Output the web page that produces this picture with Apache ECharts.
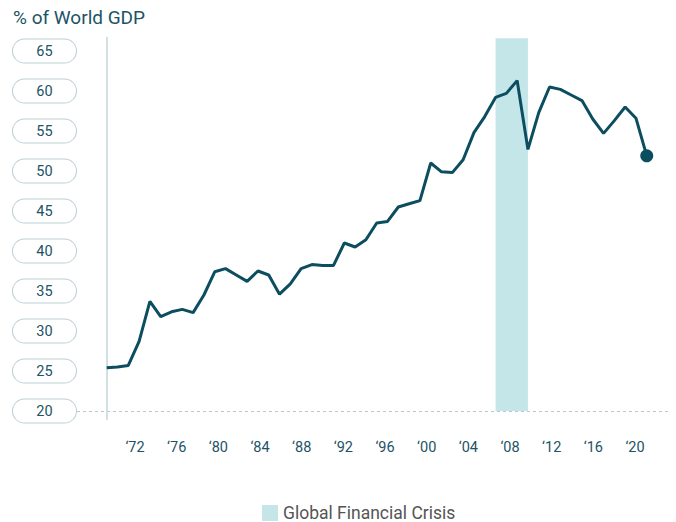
<!DOCTYPE html>
<html>
<head>
<meta charset="utf-8">
<script src="https://cdn.jsdelivr.net/npm/echarts@6/dist/echarts.min.js"></script>
<style>
  html, body { margin: 0; padding: 0; background: #fff; }
  #chart { width: 676px; height: 522px; }
</style>
</head>
<body>
<div id="chart"></div>
<script>
// years of the series, one point per year
var years = [];
for (var y = 1970; y <= 2020; y++) years.push(y);

// share of world GDP
var shares = [
  25.4, 25.5, 25.7, 28.7, 33.7, 31.8, 32.4, 32.7, 32.3, 34.5,
  37.4, 37.8, 37.0, 36.2, 37.5, 37.0, 34.6, 35.9, 37.8, 38.3,
  38.2, 38.2, 41.0, 40.5, 41.4, 43.5, 43.7, 45.5, 45.9, 46.3,
  51.0, 49.9, 49.8, 51.4, 54.8, 56.8, 59.2, 59.7, 61.3, 52.7,
  57.3, 60.5, 60.2, 59.5, 58.8, 56.5, 54.7, 56.3, 58.0, 56.6,
  51.9
];

var yTicks = [20, 25, 30, 35, 40, 45, 50, 55, 60, 65];
var xTicks = [1972, 1976, 1980, 1984, 1988, 1992, 1996, 2000, 2004, 2008, 2012, 2016, 2020];
var crisis = [2006, 2009];
var crisisName = 'Global Financial Crisis';

(function() {
  var ink = '#1d5366';
  var lineColor = '#0c4e60';
  var band = '#c5e6e9';
  var rule = '#bccfd5';
  var font = 'Roboto, "Noto Sans", sans-serif';

  var chart = echarts.init(document.getElementById('chart'), null, { renderer: 'svg' });

  var points = years.map(function(yr, i) {
    if (i === years.length - 1) {
      return { value: [yr, shares[i]], symbol: 'circle', symbolSize: 13 };
    }
    return [yr, shares[i]];
  });

  chart.setOption({
    animation: false,
    textStyle: { fontFamily: font },
    title: {
      text: '% of World GDP',
      left: 8,
      top: 3,
      textStyle: { color: ink, fontSize: 19, fontWeight: 'normal', fontFamily: font }
    },
    legend: {
      data: [crisisName],
      left: 257,
      top: 499,
      icon: 'rect',
      itemWidth: 16,
      itemHeight: 16,
      selectedMode: false,
      textStyle: { color: '#555', fontSize: 17.5, fontFamily: font }
    },
    grid: { left: 77, right: 7, top: 37, bottom: 102 },
    xAxis: [{
      // data axis: one step per year
      type: 'value',
      min: 1967.25,
      max: 2022.06,
      axisLine: { show: false },
      axisTick: { show: false },
      axisLabel: { show: false },
      splitLine: { show: false }
    }, {
      // label axis
      type: 'value',
      position: 'bottom',
      min: 1966.43,
      max: 2023.26,
      axisLine: { show: false },
      axisTick: { show: false },
      splitLine: { show: false },
      axisLabel: {
        customValues: xTicks,
        color: ink,
        fontSize: 14.5,
        margin: 20,
        formatter: function(v) { return '\u2018' + String(v).slice(2); }
      }
    }],
    yAxis: {
      type: 'value',
      min: 18.875,
      max: 66.75,
      axisLine: { show: false },
      axisTick: { show: false },
      splitLine: { show: false },
      axisLabel: {
        customValues: yTicks,
        margin: 1,
        formatter: function(v) { return '{p|' + v + '}'; },
        rich: {
          p: {
            width: 63,
            height: 23,
            lineHeight: 23,
            align: 'center',
            color: ink,
            fontSize: 14.5,
            fontFamily: font,
            backgroundColor: '#fff',
            borderColor: rule,
            borderWidth: 1,
            borderRadius: 12
          }
        }
      }
    },
    series: [{
      name: crisisName,
      type: 'bar',
      data: [],
      itemStyle: { color: band },
      markArea: {
        silent: true,
        itemStyle: { color: band },
        data: [[{ xAxis: crisis[0], yAxis: 20 }, { xAxis: crisis[1], yAxis: 66.6 }]]
      }
    }, {
      name: 'share',
      type: 'line',
      data: points,
      symbol: 'none',
      itemStyle: { color: lineColor },
      lineStyle: { color: lineColor, width: 3 },
      z: 5,
      markLine: {
        silent: true,
        symbol: ['none', 'none'],
        label: { show: false },
        data: [
          { yAxis: 20, lineStyle: { color: '#b8c9cd', width: 1, type: [3, 3] } },
          { xAxis: years[0], lineStyle: { color: '#c3d6db', width: 1.5, type: 'solid' } }
        ]
      }
    }]
  });
})();
</script>
</body>
</html>
